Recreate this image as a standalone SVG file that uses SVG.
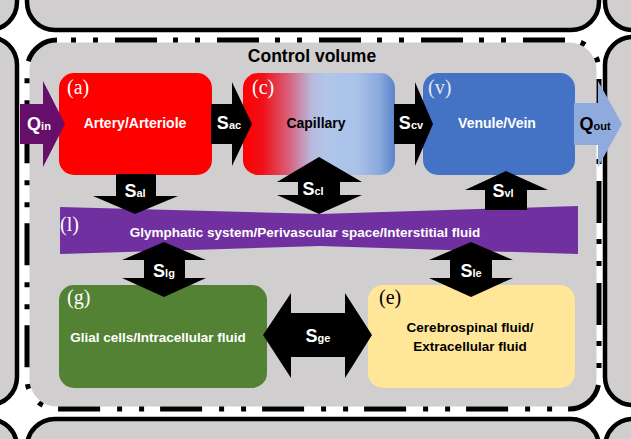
<svg xmlns="http://www.w3.org/2000/svg" width="631" height="439" viewBox="0 0 631 439">
<style>
.cell{fill:#d0cece;stroke:#000;stroke-width:4.5}
.lbl{font-family:"Liberation Serif","Times New Roman",serif;font-size:20px}
.t{font-family:"Liberation Sans",Arial,sans-serif;font-weight:bold;text-anchor:middle}
.s{font-family:"Liberation Sans",Arial,sans-serif;font-weight:bold;font-size:18px;fill:#fff;text-anchor:middle}
.sub{font-size:11px}
.arr{fill:#000}
</style>
<defs>
<linearGradient id="capg" x1="0" y1="0" x2="1" y2="0">
<stop offset="0" stop-color="#ff0000"/>
<stop offset="0.13" stop-color="#f01018"/>
<stop offset="0.3" stop-color="#d8607a"/>
<stop offset="0.45" stop-color="#b9b8dc"/>
<stop offset="0.55" stop-color="#b0c6ea"/>
<stop offset="0.75" stop-color="#aac2ea"/>
<stop offset="0.9" stop-color="#8aa8dc"/>
<stop offset="1" stop-color="#5a84cc"/>
</linearGradient>
</defs>
<rect x="0" y="0" width="631" height="439" fill="#fff"/>
<g id="neighbors">
<rect class="cell" x="-80" y="-80" width="97" height="110" rx="28"/>
<rect class="cell" x="27" y="-80" width="572" height="110" rx="28"/>
<rect class="cell" x="605" y="-80" width="100" height="110" rx="28"/>
<rect class="cell" x="-80" y="37" width="97" height="368" rx="28"/>
<rect class="cell" x="605" y="37" width="100" height="368" rx="28"/>
<rect class="cell" x="-80" y="419" width="97" height="100" rx="28"/>
<rect class="cell" x="27" y="419" width="572" height="100" rx="28"/>
<rect class="cell" x="605" y="419" width="100" height="100" rx="28"/>
</g>
<g id="control-volume">
<rect x="29.5" y="42.5" width="567" height="364" rx="27.5" fill="#d0cece"/>
<rect x="27" y="40" width="572" height="369" rx="30" fill="none" stroke="#000" stroke-width="5" stroke-dasharray="42 16 5 17 5 17" stroke-dashoffset="44"/>
<text class="t" x="312" y="62" font-size="17.5">Control volume</text>
</g>
<g id="node-a">
<rect x="59" y="73" width="153" height="102" rx="15" fill="#ff0000"/>
<text class="lbl" x="67" y="94" fill="#fff">(a)</text>
<text class="t" x="135" y="128" font-size="14" fill="#fff">Artery/Arteriole</text>
</g>
<g id="node-c">
<rect x="243" y="73" width="152" height="102" rx="15" fill="url(#capg)"/>
<text class="lbl" x="252" y="94" fill="#fff">(c)</text>
<text class="t" x="316" y="128" font-size="14" fill="#000">Capillary</text>
</g>
<g id="node-v">
<rect x="423" y="73" width="152" height="102" rx="15" fill="#4472c4"/>
<text class="lbl" x="428" y="94" fill="#e4e8f4">(v)</text>
<text class="t" x="497" y="128" font-size="14" fill="#fff">Venule/Vein</text>
</g>
<g id="node-l">
<polygon points="60,207 320,214 578,206 578,254 320,246 60,254" fill="#7030a0"/>
<text class="lbl" x="60" y="231" fill="#fff">(l)</text>
<text class="t" x="305" y="237" font-size="13.5" fill="#fff">Glymphatic system/Perivascular space/Interstitial fluid</text>
</g>
<g id="node-g">
<rect x="59" y="285" width="208" height="103" rx="15" fill="#548235"/>
<text class="lbl" x="67" y="304" fill="#fff">(g)</text>
<text class="t" x="158" y="342" font-size="13.5" fill="#fff">Glial cells/Intracellular fluid</text>
</g>
<g id="node-e">
<rect x="368" y="285" width="207" height="103" rx="15" fill="#ffe699"/>
<text class="lbl" x="379" y="304" fill="#000">(e)</text>
<text class="t" x="470" y="332" font-size="13.5" fill="#000">Cerebrospinal fluid/</text>
<text class="t" x="470" y="351" font-size="13.5" fill="#000">Extracellular fluid</text>
</g>
<g id="connectors">
<polygon points="20,104 43,104 43,81 65,124 43,167 43,144 20,144" fill="#650f6a"/>
<polygon class="arr" points="211,104 232,104 232,82 252,124 232,166 232,144 211,144"/>
<polygon class="arr" points="394,104 415,104 415,82 433,124 415,166 415,144 394,144"/>
<polygon points="574,103 598,103 598,81 622,124 598,167 598,145 574,145" fill="#8faadc"/>
<polygon class="arr" points="116,174 156,174 156,196 178,196 135,214 93,196 116,196"/>
<polygon class="arr" points="319,157 362,182 340,182 340,195 362,195 319,214 277,195 298,195 298,182 277,182"/>
<polygon class="arr" points="506,171 548,190 527,190 527,210 485,210 485,190 465,190"/>
<polygon class="arr" points="164,242 206,260 185,260 185,278 206,278 164,297 122,278 144,278 144,260 122,260"/>
<polygon class="arr" points="471,242 513,260 492,260 492,278 513,278 471,297 429,278 450,278 450,260 429,260"/>
<polygon class="arr" points="263,335 291,293 291,313 345,313 345,293 372,335 345,378 345,357 291,357 291,378"/>
<text class="s" x="39" y="130">Q<tspan class="sub">in</tspan></text>
<text class="s" x="229" y="129">S<tspan class="sub">ac</tspan></text>
<text class="s" x="411" y="129">S<tspan class="sub">cv</tspan></text>
<text class="s" x="595" y="130" fill="#000" style="fill:#000">Q<tspan class="sub">out</tspan></text>
<text class="s" x="135" y="197">S<tspan class="sub">al</tspan></text>
<text class="s" x="313" y="195">S<tspan class="sub">cl</tspan></text>
<text class="s" x="503" y="197">S<tspan class="sub">vl</tspan></text>
<text class="s" x="164" y="277">S<tspan class="sub">lg</tspan></text>
<text class="s" x="471" y="277">S<tspan class="sub">le</tspan></text>
<text class="s" x="318" y="342">S<tspan class="sub">ge</tspan></text>
</g>
</svg>
